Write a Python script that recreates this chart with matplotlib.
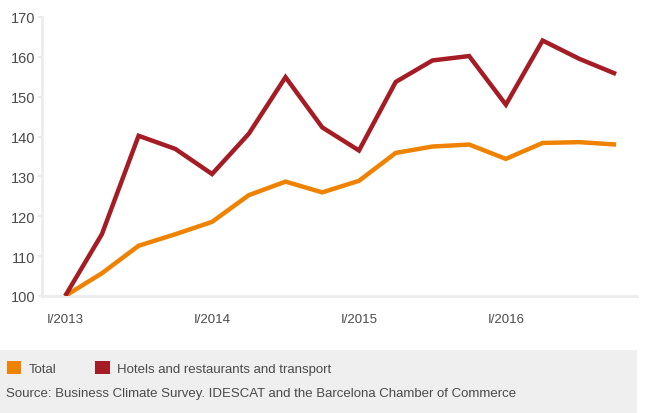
import matplotlib.pyplot as plt
from matplotlib.patches import Patch, Rectangle

plt.rcParams['font.family'] = ['Liberation Sans', 'DejaVu Sans']

# quarterly index, I/2013 = 100
quarters = ['I/2013', 'II/2013', 'III/2013', 'IV/2013',
            'I/2014', 'II/2014', 'III/2014', 'IV/2014',
            'I/2015', 'II/2015', 'III/2015', 'IV/2015',
            'I/2016', 'II/2016', 'III/2016', 'IV/2016']
total = [100, 105.7, 112.6, 115.5, 118.6, 125.3, 128.7, 126.0,
         128.9, 135.9, 137.5, 138.0, 134.4, 138.4, 138.6, 138.0]
hotels = [100, 115.5, 140.2, 136.9, 130.6, 140.7, 154.9, 142.3,
          136.5, 153.7, 159.1, 160.2, 148.0, 164.1, 159.5, 155.7]
yticks = [100, 110, 120, 130, 140, 150, 160, 170]

orange = '#EF8200'
red = '#A51C24'
txt = '#4a4a4a'

fig = plt.figure(figsize=(6.54, 4.14), dpi=100)
ax = fig.add_axes([42/654, (414-297)/414, (637-42)/654, (297-18)/414])

x = list(range(len(quarters)))
ax.plot(x, total, color=orange, lw=3.2, solid_joinstyle='miter', solid_capstyle='butt', zorder=3)
ax.plot(x, hotels, color=red, lw=3.2, solid_joinstyle='miter', solid_capstyle='butt', zorder=4)

ax.set_ylim(100, 170)
ax.set_xlim(-0.63, 15.57)
ax.set_yticks(yticks)
ax.set_xticks(x[::4])
ax.set_xticklabels(quarters[::4])

for s in ['top', 'right']:
    ax.spines[s].set_visible(False)
for s in ['left', 'bottom']:
    ax.spines[s].set_color('#ececec')
    ax.spines[s].set_linewidth(2)
ax.tick_params(axis='y', length=3, width=1.5, color='#ececec', labelsize=10.5, labelcolor=txt, pad=2)
ax.tick_params(axis='x', length=0, labelsize=9.5, labelcolor=txt, pad=12)

# grey footer with legend and source
fig.patches.append(Rectangle((0, 0), 637/654, 63/414, transform=fig.transFigure,
                             facecolor='#efefef', edgecolor='none', zorder=0))
handles = [Patch(facecolor=orange), Patch(facecolor=red)]
fig.legend(handles, ['Total', 'Hotels and restaurants and transport'],
           loc='center left', bbox_to_anchor=(0.0, (414-369)/414), ncol=2,
           frameon=False, fontsize=9.5, handlelength=1.1, handleheight=1.1,
           handletextpad=0.6, columnspacing=2.9, borderaxespad=0.1,
           labelcolor=txt)
fig.text(6/654, (414-394)/414, 'Source: Business Climate Survey. IDESCAT and the Barcelona Chamber of Commerce',
         fontsize=9.5, color=txt, va='center', ha='left')

fig.savefig('out.png', dpi=100)
